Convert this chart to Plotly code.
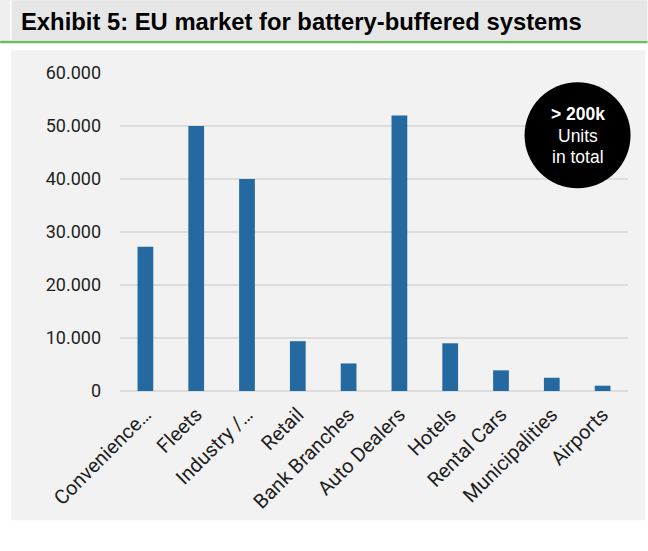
import plotly.graph_objects as go

categories = ["Convenience…", "Fleets", "Industry /…", "Retail", "Bank Branches",
              "Auto Dealers", "Hotels", "Rental Cars", "Municipalities", "Airports"]
units = [27200, 50000, 40000, 9400, 5200, 52000, 9000, 3900, 2500, 1000]
y_ticks = [0, 10000, 20000, 30000, 40000, 50000, 60000]

W, H = 648, 551
L, R = 120, 628.5
T, B = 72.7, 390.7


def px(x):
    return (x - L) / (R - L)


def py(y):
    return (B - y) / (B - T)


fig = go.Figure(go.Bar(
    x=categories, y=units, marker=dict(color="#246aa0", line=dict(width=0)),
))

shapes = [
    # title band
    dict(type="rect", xref="paper", yref="paper", x0=px(0), x1=px(W), y0=py(40), y1=py(0),
         fillcolor="#e6e6e6", line=dict(width=0), layer="below"),
    dict(type="rect", xref="paper", yref="paper", x0=px(0), x1=px(9), y0=py(40), y1=py(0),
         fillcolor="#efefef", line=dict(width=0), layer="below"),
    dict(type="rect", xref="paper", yref="paper", x0=px(9.5), x1=px(11.5), y0=py(40), y1=py(0),
         fillcolor="#ffffff", line=dict(width=0), layer="below"),
    # green rule
    dict(type="rect", xref="paper", yref="paper", x0=px(0), x1=px(W), y0=py(43), y1=py(40.5),
         fillcolor="#6dbd5e", line=dict(width=0), layer="below"),
    # chart panel
    dict(type="rect", xref="paper", yref="paper", x0=px(11), x1=px(646), y0=py(520), y1=py(50),
         fillcolor="#f2f2f2", line=dict(width=0), layer="below"),
    # circle
    dict(type="circle", xref="paper", yref="paper", xsizemode="pixel", ysizemode="pixel",
         xanchor=px(578), yanchor=py(135), x0=-53, x1=53, y0=-53, y1=53,
         fillcolor="#000000", line=dict(width=0), layer="above"),
]

annotations = [
    dict(text="<b>Exhibit 5: EU market for battery-buffered systems</b>", xref="paper", yref="paper",
         x=px(19), y=py(21), xanchor="left", yanchor="middle", showarrow=False,
         font=dict(family="Liberation Sans, Arial", size=23.8, color="#000000")),
    dict(text="<b>&gt; 200k</b>", xref="paper", yref="paper", x=px(578), y=py(114),
         xanchor="center", yanchor="middle", showarrow=False,
         font=dict(family="Liberation Sans, Arial", size=17.5, color="#ffffff")),
    dict(text="Units", xref="paper", yref="paper", x=px(578), y=py(136),
         xanchor="center", yanchor="middle", showarrow=False,
         font=dict(family="Liberation Sans, Arial", size=17.5, color="#ffffff")),
    dict(text="in total", xref="paper", yref="paper", x=px(578), y=py(157),
         xanchor="center", yanchor="middle", showarrow=False,
         font=dict(family="Liberation Sans, Arial", size=17.5, color="#ffffff")),
]

fig.update_layout(
    width=W, height=H,
    margin=dict(l=L, r=W - R, t=T, b=H - B, pad=0),
    paper_bgcolor="#ffffff",
    plot_bgcolor="#f2f2f2",
    separators=",.",
    bargap=0.69,
    showlegend=False,
    shapes=shapes,
    annotations=annotations,
    font=dict(family="Roboto", size=16, color="#1e1e1e"),
)
fig.update_xaxes(
    tickangle=-45, showgrid=False, showline=False, ticks="",
    ticklabelstandoff=7,
    tickfont=dict(family="Roboto", size=20, color="#1e1e1e"),
)
fig.update_yaxes(
    range=[0, 60000], tickvals=y_ticks, tickformat=",d",
    showgrid=True, gridcolor="#dcdcdc", gridwidth=2,
    zeroline=True, zerolinecolor="#dcdcdc", zerolinewidth=2,
    showline=False, ticks="", ticklabelstandoff=18,
    tickfont=dict(family="Roboto", size=18, color="#1e1e1e"),
)

fig.write_html("out.html")
